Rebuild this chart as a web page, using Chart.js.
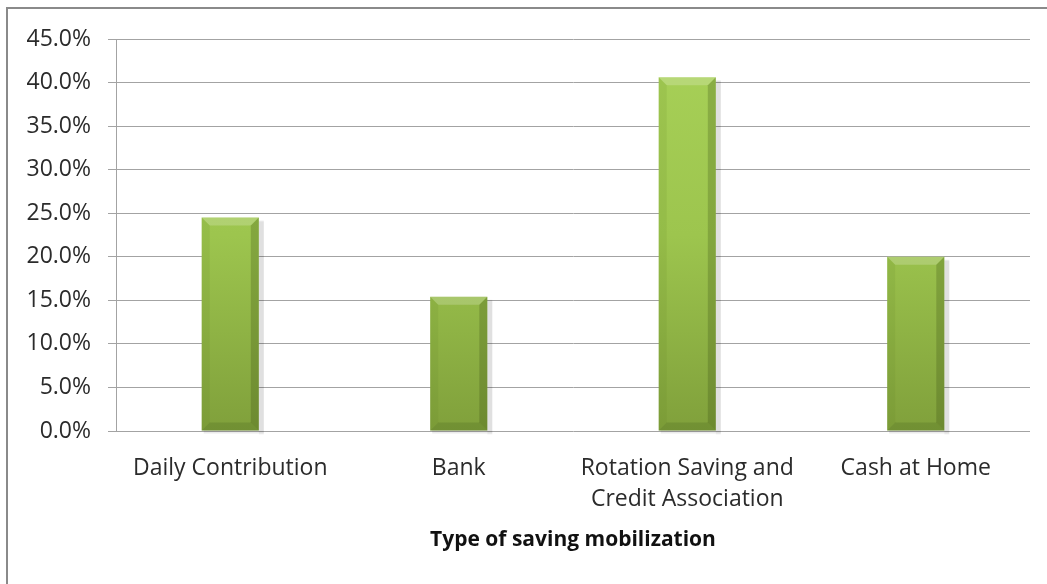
<!DOCTYPE html>
<html>
<head>
<meta charset="utf-8">
<script src="https://cdn.jsdelivr.net/npm/chart.js@4.4.0/dist/chart.umd.min.js"></script>
<style>
  html, body { margin: 0; padding: 0; background: #fff; }
  .wrap { position: relative; width: 1047px; height: 584px; overflow: hidden; }
  .frame { position: absolute; left: 6px; top: 7px; width: 1100px; height: 700px;
           border-left: 2px solid #8a8a8a; border-top: 2px solid #8a8a8a; }
  canvas { position: absolute; left: 0; top: 0; }
</style>
</head>
<body>
<div class="wrap">
  <div class="frame"></div>
  <canvas id="savingChart" width="1047" height="584"></canvas>
</div>
<script>
const categories = [
  "Daily Contribution",
  "Bank",
  ["Rotation Saving and", "Credit Association"],
  "Cash at Home"
];
const shares = [24.5, 15.4, 40.6, 20.0];
const yTicks = [0, 5, 10, 15, 20, 25, 30, 35, 40, 45];
const axisTitle = "Type of saving mobilization";

const gridColor = "#a3a3a3";
const textColor = "#2b2b2b";

// vertical gradient for the bars
function barFill(ctx) {
  const area = ctx.chart.chartArea;
  if (!area) return "#9cc64c";
  const g = ctx.chart.ctx.createLinearGradient(0, area.top, 0, area.bottom);
  g.addColorStop(0, "#a8d158");
  g.addColorStop(0.5, "#9dc54e");
  g.addColorStop(1, "#80a03b");
  return g;
}

// bevel + soft shadow like the office chart style
const bevelPlugin = {
  id: "bevel",
  beforeDatasetsDraw(chart) {
    const c = chart.ctx;
    const meta = chart.getDatasetMeta(0);
    c.save();
    meta.data.forEach(bar => {
      const l = bar.x - bar.width / 2, r = bar.x + bar.width / 2;
      c.fillStyle = "rgba(0,0,0,0.08)";
      c.fillRect(l + 2, bar.y + 3, bar.width + 3, bar.base - bar.y);
      c.fillStyle = "rgba(0,0,0,0.05)";
      c.fillRect(r, bar.y + 4, 5, bar.base - bar.y);
    });
    c.restore();
  },
  afterDatasetsDraw(chart) {
    const c = chart.ctx;
    const meta = chart.getDatasetMeta(0);
    const b = 8;
    c.save();
    meta.data.forEach(bar => {
      const l = bar.x - bar.width / 2, r = bar.x + bar.width / 2;
      const t = bar.y, btm = bar.base;
      const poly = (pts, fill) => {
        c.beginPath();
        c.moveTo(pts[0][0], pts[0][1]);
        for (let i = 1; i < pts.length; i++) c.lineTo(pts[i][0], pts[i][1]);
        c.closePath();
        c.fillStyle = fill;
        c.fill();
      };
      poly([[l, t], [r, t], [r - b, t + b], [l + b, t + b]], "rgba(255,255,255,0.20)");
      poly([[l, t], [l + b, t + b], [l + b, btm - b], [l, btm]], "rgba(90,120,30,0.12)");
      poly([[r, t], [r, btm], [r - b, btm - b], [r - b, t + b]], "rgba(40,60,10,0.22)");
      poly([[l, btm], [l + b, btm - b], [r - b, btm - b], [r, btm]], "rgba(40,60,10,0.16)");
    });
    c.restore();
  }
};

new Chart(document.getElementById("savingChart"), {
  type: "bar",
  data: {
    labels: categories,
    datasets: [{
      label: "Share",
      data: shares,
      backgroundColor: barFill,
      borderWidth: 0,
      barPercentage: 0.25,
      categoryPercentage: 1
    }]
  },
  options: {
    responsive: false,
    animation: false,
    devicePixelRatio: 1,
    layout: { padding: { left: 0, right: 17, top: 39, bottom: 0 } },
    plugins: {
      legend: { display: false },
      tooltip: { enabled: false }
    },
    scales: {
      x: {
        grid: { display: false, drawTicks: false },
        border: { display: false },
        ticks: {
          color: textColor,
          padding: 22,
          maxRotation: 0,
          autoSkip: false,
          font: { family: "'Open Sans'", size: 23, lineHeight: 1.35 }
        },
        title: {
          display: true,
          text: axisTitle,
          color: "#111",
          padding: { top: 0, bottom: 31 },
          font: { family: "'Open Sans'", size: 21, weight: "bold", lineHeight: 1.2 }
        },
        afterFit(scale) { scale.height = 153; }
      },
      y: {
        min: 0,
        max: 45,
        afterBuildTicks(scale) { scale.ticks = yTicks.map(v => ({ value: v })); },
        grid: { color: gridColor, lineWidth: 1, drawTicks: true, tickLength: 8, tickColor: gridColor },
        border: { display: true, color: gridColor, width: 1 },
        ticks: {
          color: textColor,
          padding: 17,
          font: { family: "'Open Sans'", size: 23 },
          callback: v => v.toFixed(1) + "%"
        },
        afterFit(scale) { scale.width = 116; }
      }
    }
  },
  plugins: [bevelPlugin]
});
</script>
</body>
</html>
